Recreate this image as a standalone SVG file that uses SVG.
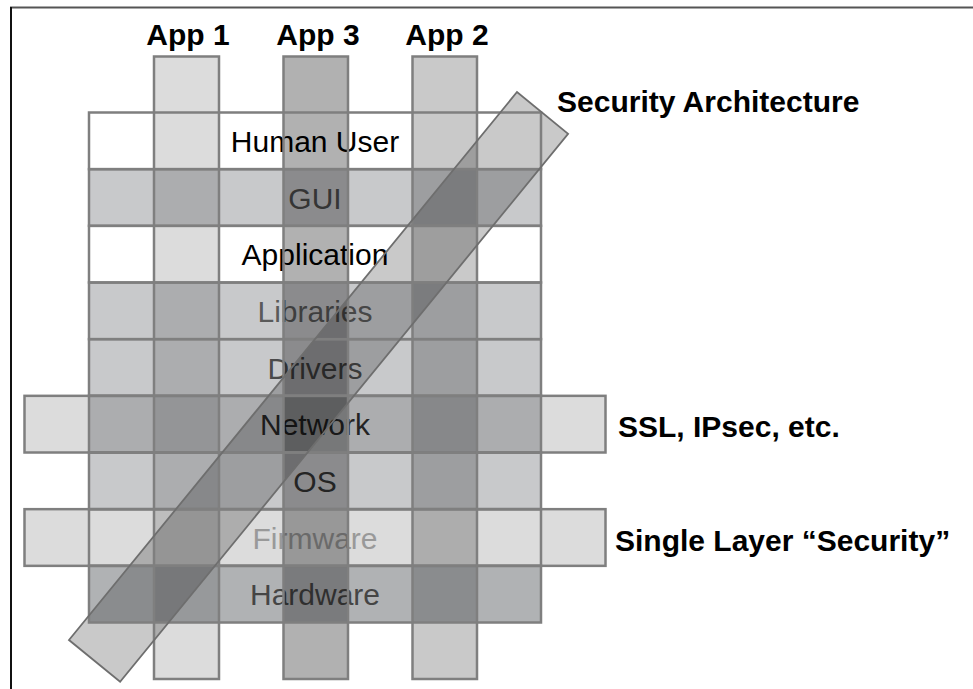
<svg xmlns="http://www.w3.org/2000/svg" width="973" height="689" viewBox="0 0 973 689">
<style>
.lbl{font-family:"Liberation Sans",Arial,sans-serif;font-size:30px;text-anchor:middle}
.head{font-family:"Liberation Sans",Arial,sans-serif;font-size:30px;font-weight:bold;fill:#000}
.white{fill:#ffffff}
.mid{fill:#c8c9cb}
.dark{fill:#b0b2b4}
.ovl-light{fill:#000;fill-opacity:0.137}
.ovl-mid{fill:#000;fill-opacity:0.213}
.ovl-dark{fill:#000;fill-opacity:0.306}
.edge{fill:none;stroke:#7f7f7f;stroke-width:2.5}
.diag-edge{fill:none;stroke:#6e6e6e;stroke-width:1.8;stroke-linejoin:miter}
</style>
<rect x="0" y="0" width="973" height="689" fill="#ffffff"/>
<g id="frame">
<line x1="10" y1="7.5" x2="973" y2="7.5" stroke="#555" stroke-width="2"/>
<line x1="11" y1="7" x2="11" y2="689" stroke="#111" stroke-width="2"/>
</g>
<g id="layer-human-user">
<rect class="white" x="89" y="112.5" width="452" height="56.67"/>
<text class="lbl" x="315" y="151.8" fill="#000">Human User</text>
</g>
<g id="layer-gui">
<rect class="mid" x="89" y="169.17" width="452" height="56.67"/>
<text class="lbl" x="315" y="208.5" fill="#4d4d4d">GUI</text>
</g>
<g id="layer-application">
<rect class="white" x="89" y="225.83" width="452" height="56.67"/>
<text class="lbl" x="315" y="265.1" fill="#000">Application</text>
</g>
<g id="layer-libraries">
<rect class="mid" x="89" y="282.5" width="452" height="56.67"/>
<text class="lbl" x="315" y="321.8" fill="#5a5a5a">Libraries</text>
</g>
<g id="layer-drivers">
<rect class="mid" x="89" y="339.17" width="452" height="56.67"/>
<text class="lbl" x="315" y="378.5" fill="#4a4a4a">Drivers</text>
</g>
<g id="layer-network">
<rect class="mid" x="89" y="395.83" width="452" height="56.67"/>
<text class="lbl" x="315" y="435.1" fill="#2a2a2a">Network</text>
<rect id="ssl-strip" class="ovl-light" x="24.5" y="395.83" width="581" height="56.67"/>
</g>
<g id="layer-os">
<rect class="mid" x="89" y="452.5" width="452" height="56.67"/>
<text class="lbl" x="315" y="491.8" fill="#353535">OS</text>
</g>
<g id="layer-firmware">
<rect class="white" x="89" y="509.17" width="452" height="56.67"/>
<text class="lbl" x="315" y="548.5" fill="#b2b2b2">Firmware</text>
<rect id="single-strip" class="ovl-light" x="24.5" y="509.17" width="581" height="56.67"/>
</g>
<g id="layer-hardware">
<rect class="dark" x="89" y="565.83" width="452" height="56.67"/>
<text class="lbl" x="315" y="605.1" fill="#454545">Hardware</text>
</g>
<g id="app1">
<rect class="ovl-light" x="154" y="56.5" width="65" height="622.5"/>
<text class="head" x="188" y="45" text-anchor="middle">App 1</text>
</g>
<g id="app3">
<rect class="ovl-dark" x="283.5" y="56.5" width="64.5" height="622.5"/>
<text class="head" x="318" y="45" text-anchor="middle">App 3</text>
</g>
<g id="app2">
<rect class="ovl-mid" x="412.5" y="56.5" width="64.5" height="622.5"/>
<text class="head" x="447" y="45" text-anchor="middle">App 2</text>
</g>
<g id="security-architecture">
<polygon class="ovl-mid" points="69,640 517,92 568.1,133.8 120.1,681.8"/>
<text class="head" x="557" y="112">Security Architecture</text>
</g>
<g id="ssl-label">
<text class="head" x="618" y="437">SSL, IPsec, etc.</text>
</g>
<g id="single-layer-label">
<text class="head" x="615" y="551">Single Layer “Security”</text>
</g>
<g id="connectors">
<g id="outlines">
<rect class="edge" x="24.5" y="395.83" width="581" height="56.67"/>
<rect class="edge" x="24.5" y="509.17" width="581" height="56.67"/>
<rect class="edge" x="89" y="112.5" width="452" height="56.67"/>
<rect class="edge" x="89" y="169.17" width="452" height="56.67"/>
<rect class="edge" x="89" y="225.83" width="452" height="56.67"/>
<rect class="edge" x="89" y="282.5" width="452" height="56.67"/>
<rect class="edge" x="89" y="339.17" width="452" height="56.67"/>
<rect class="edge" x="89" y="395.83" width="452" height="56.67"/>
<rect class="edge" x="89" y="452.5" width="452" height="56.67"/>
<rect class="edge" x="89" y="509.17" width="452" height="56.67"/>
<rect class="edge" x="89" y="565.83" width="452" height="56.67"/>
<rect class="edge" x="154" y="56.5" width="65" height="622.5"/>
<rect class="edge" x="283.5" y="56.5" width="64.5" height="622.5"/>
<rect class="edge" x="412.5" y="56.5" width="64.5" height="622.5"/>
<polygon class="diag-edge" points="69,640 517,92 568.1,133.8 120.1,681.8"/>
</g>
</g>
</svg>
